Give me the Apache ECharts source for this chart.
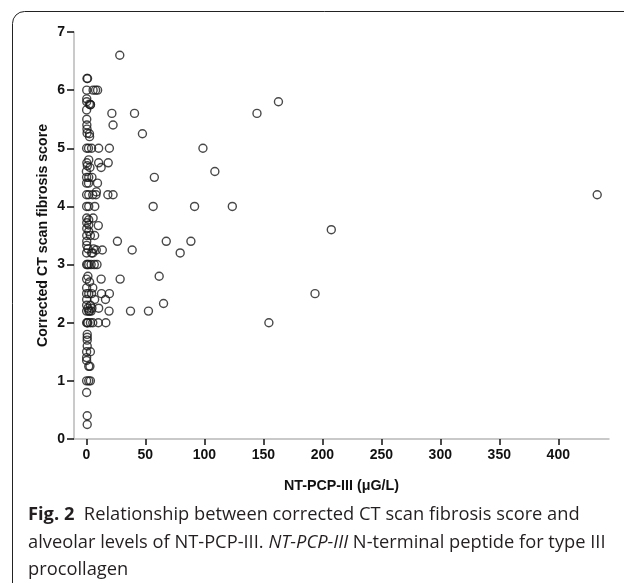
<!DOCTYPE html>
<html>
<head>
<meta charset="utf-8">
<script src="https://cdn.jsdelivr.net/npm/echarts@6/dist/echarts.min.js"></script>
<style>
html,body{margin:0;padding:0;background:#fff;}
#c{width:624px;height:583px;}
</style>
</head>
<body>
<div id="c"></div>
<script>
// NT-PCP-III (µG/L) values
var ptsX = [
 28.3,21.6,40.8,22.6,47.5,19.5,10.4,98.8,144.6,162.8,108.9,57.6,18.5,12.5,10.4,18.2,22.6,433,56.6,91.7,123.7,207.6,
 26.3,67.7,88.6,38.8,79.5,28.6,61.7,65.4,193.8,154.7,37.4,52.6,19.2,19.5,16.2,12.8,10.4,16.5,10.1,12.5,13.5,10.1,
 7.1,9.4,8.1,8.5,3.4,9.0,7.0,5.7,8.4,5.4,
 0.5,1.0, 0.3,5.7,7.8,9.5, 0.3,0.3,2.5,3.5, 0.2,0.3,0.4,0.5,0.6,2.6,2.7,
 0.2,1.8,4.4, 2.0,0.4,0.8,3.0,0.0, 0.2,2.0,4.7, 0.2,1.8, 0.2,2.0,5.4, 0.2,2.0,
 0.3,2.0,0.3,2.0,0.3,2.0, 0.3,3.4,0.3,0.3, 1.3,6.0, 0.2,4.4, 0.2,2.0,4.0,6.7,1.0,
 1.3,0.2,2.7, 0.2,5.4, 0.2,2.0,4.4, 0.2,7.0, 0.2,3.4, 1.3,4.7, 0.2,2.0,4.0,2.6,
 0.2,1.3,3.4,5.4,0.8, 0.7,0.7,0.7,0.7, 0.2,3.4, 0.2,0.2, 2.0,3.0, 0.2,2.0,3.4, 0.2, 0.7,0.7
];
// Corrected CT scan fibrosis score values
var ptsY = [
 6.6,5.6,5.6,5.4,5.25,5.0,5.0,5.0,5.6,5.8,4.6,4.5,4.75,4.67,4.75,4.2,4.2,4.2,4.0,4.0,4.0,3.6,
 3.4,3.4,3.4,3.25,3.2,2.75,2.8,2.33,2.5,2.0,2.2,2.2,2.2,2.5,2.4,2.5,2.25,2.0,2.0,2.75,3.25,3.67,
 4.0,4.4,4.2,4.25,5.75,3.0,3.5,3.8,3.25,3.2,
 6.2,6.2, 6.0,6.0,6.0,6.0, 5.85,5.8,5.76,5.75, 5.66,5.5,5.4,5.33,5.26,5.25,5.2,
 5.0,5.0,5.0, 4.8,4.75,4.7,4.67,4.6, 4.5,4.5,4.5, 4.4,4.4, 4.2,4.2,4.2, 4.0,4.0,
 3.8,3.77,3.72,3.68,3.62,3.57, 3.5,3.5,3.4,3.33, 3.27,3.27, 3.2,3.2, 3.0,3.0,3.0,3.0,3.0,
 2.8,2.75,2.7, 2.6,2.6, 2.5,2.5,2.5, 2.4,2.4, 2.3,2.3, 2.25,2.25, 2.2,2.2,2.2,2.2,
 2.0,2.0,2.0,2.0,2.0, 1.8,1.75,1.7,1.6, 1.5,1.5, 1.4,1.35, 1.25,1.25, 1.0,1.0,1.0, 0.8, 0.4,0.25
];
var xTicks = [0,50,100,150,200,250,300,350,400];
var yTicks = [0,1,2,3,4,5,6,7];

var data = [];
for (var i = 0; i < ptsX.length; i++) data.push([ptsX[i], ptsY[i]]);

var chart = echarts.init(document.getElementById('c'), null, {renderer:'canvas'});
var lblFont = {fontFamily:'Liberation Sans', fontWeight:'bold', fontSize:14, color:'#111'};
var capFont = 'Open Sans';
var capSize = 18.3;
chart.setOption({
  animation:false,
  backgroundColor:'#fff',
  grid:{left:74, top:32, right:15, bottom:144, containLabel:false},
  xAxis:{
    type:'value', min:-10.5, max:443,
    name:'NT-PCP-III (μG/L)', nameLocation:'middle', nameGap:40, nameMoveOverlap:false,
    nameTextStyle:{fontFamily:'Liberation Sans', fontWeight:'bold', fontSize:14.3, color:'#111'},
    axisLine:{show:true, onZero:false, lineStyle:{color:'#b8b8b8', width:1.5}},
    axisTick:{show:true, length:6, inside:false, customValues:xTicks, lineStyle:{color:'#111', width:1.5}},
    axisLabel:Object.assign({margin:9, customValues:xTicks}, lblFont),
    splitLine:{show:false}
  },
  yAxis:{
    type:'value', min:0, max:7, interval:1,
    name:'Corrected CT scan fibrosis score', nameLocation:'middle', nameGap:24, nameMoveOverlap:false,
    nameTextStyle:{fontFamily:'Liberation Sans', fontWeight:'bold', fontSize:14.2, color:'#111'},
    axisLine:{show:true, onZero:false, lineStyle:{color:'#b8b8b8', width:1.5}},
    axisTick:{show:true, length:7, inside:false, lineStyle:{color:'#111', width:1.5}},
    axisLabel:Object.assign({margin:9, formatter:function(v){return yTicks.indexOf(v)>=0?String(v):'';}}, lblFont),
    splitLine:{show:false}
  },
  series:[{
    type:'scatter',
    data:data,
    symbol:'circle',
    symbolSize:8,
    itemStyle:{color:'rgba(255,255,255,0)', borderColor:'#1a1a1a', borderWidth:1.4}
  }],
  graphic:[
    {type:'rect', shape:{x:12.5, y:11.5, width:680, height:600, r:12}, style:{fill:'none', stroke:'#222', lineWidth:1}, silent:true},
    {type:'text', left:28, top:506, style:{
      text:'{b|Fig. 2}  Relationship between corrected CT scan fibrosis score and',
      fontFamily:capFont, fontSize:capSize, fill:'#231f20',
      rich:{b:{fontFamily:capFont, fontWeight:'bold', fontSize:capSize, fill:'#231f20'}}
    }},
    {type:'text', left:28, top:534, style:{
      text:'alveolar levels of NT-PCP-III. {i|NT-PCP-III} N-terminal peptide for type III',
      fontFamily:capFont, fontSize:capSize, fill:'#231f20',
      rich:{i:{fontFamily:capFont, fontStyle:'italic', fontSize:capSize, fill:'#231f20'}}
    }},
    {type:'text', left:28, top:561, style:{
      text:'procollagen',
      fontFamily:capFont, fontSize:capSize, fill:'#231f20'
    }}
  ]
});
</script>
</body>
</html>
